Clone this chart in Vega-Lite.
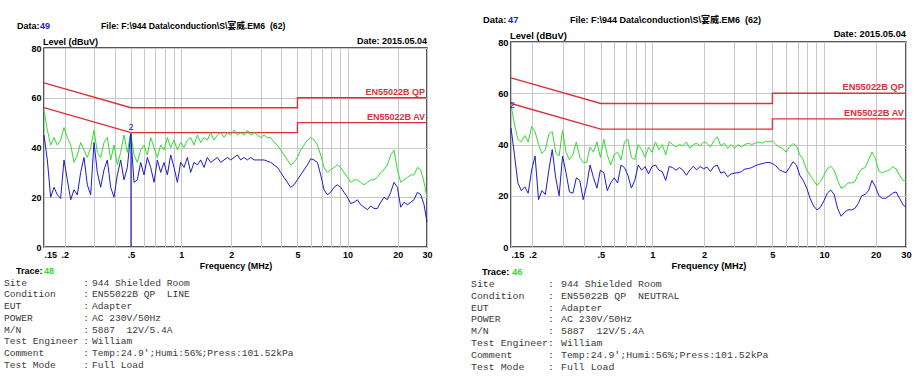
{
  "$schema": "https://vega.github.io/schema/vega-lite/v6.json",
  "background": "white",
  "padding": {"left": 4, "top": 15, "right": 0, "bottom": 0},
  "config": {
    "view": {"stroke": "#222222", "strokeWidth": 1.5},
    "axis": {
      "domain": false, "ticks": false, "gridColor": "#c8c8c8", "gridWidth": 1,
      "labelFont": "Liberation Sans", "labelFontWeight": "bold", "labelFontSize": 9, "labelColor": "#000000",
      "titleFont": "Liberation Sans", "titleFontWeight": "bold", "titleFontSize": 9, "titleColor": "#000000"
    },
    "text": {"font": "Liberation Sans", "fontWeight": "bold", "fontSize": 9, "color": "#000000"}
  },
  "datasets": {
    "one": [{}],
    "left": [
      {"f":0.15,"g":55,"b":45},{"f":0.1571,"g":47,"b":35},{"f":0.1645,"g":41,"b":20},{"f":0.1723,"g":44,"b":24},{"f":0.1804,"g":41,"b":21},
      {"f":0.1889,"g":43,"b":19.5},{"f":0.1978,"g":48,"b":35},{"f":0.2072,"g":44,"b":27},{"f":0.217,"g":41,"b":19},{"f":0.2272,"g":34,"b":23},
      {"f":0.2379,"g":37,"b":21},{"f":0.2491,"g":42,"b":30},{"f":0.2609,"g":39,"b":36},{"f":0.2732,"g":36,"b":25},{"f":0.2861,"g":40,"b":21},
      {"f":0.2996,"g":47,"b":42},{"f":0.3137,"g":38,"b":30},{"f":0.3285,"g":36,"b":24},{"f":0.344,"g":42,"b":31},{"f":0.3603,"g":44,"b":35},
      {"f":0.3773,"g":35,"b":24},{"f":0.3951,"g":41,"b":20},{"f":0.4137,"g":33,"b":29},{"f":0.4333,"g":38,"b":35},{"f":0.4537,"g":45,"b":27},
      {"f":0.4751,"g":38,"b":32},{"f":0.4976,"g":46,"b":45.5},{"f":0.5211,"g":37,"b":26},{"f":0.5457,"g":34,"b":27},{"f":0.5714,"g":39,"b":34},
      {"f":0.5984,"g":41,"b":29},{"f":0.6267,"g":37,"b":36},{"f":0.6562,"g":44,"b":32},{"f":0.6872,"g":40,"b":26},{"f":0.7197,"g":36,"b":35},
      {"f":0.7536,"g":41,"b":30},{"f":0.7892,"g":39,"b":34},{"f":0.8265,"g":44,"b":29},{"f":0.8655,"g":40,"b":37},{"f":0.9063,"g":43,"b":32},
      {"f":0.9491,"g":39,"b":26},{"f":0.9939,"g":42,"b":34},{"f":1.041,"g":40,"b":32},{"f":1.09,"g":43,"b":36},{"f":1.141,"g":44,"b":30},
      {"f":1.195,"g":41,"b":34},{"f":1.252,"g":45,"b":33},{"f":1.311,"g":42,"b":35},{"f":1.373,"g":44,"b":32},{"f":1.437,"g":43,"b":36},
      {"f":1.505,"g":46,"b":34},{"f":1.576,"g":43,"b":35},{"f":1.651,"g":45,"b":36},{"f":1.729,"g":46,"b":34},{"f":1.81,"g":44,"b":35},
      {"f":1.896,"g":46,"b":36},{"f":1.985,"g":45,"b":35},{"f":2.079,"g":47,"b":36},{"f":2.177,"g":45,"b":37},{"f":2.28,"g":46,"b":35},
      {"f":2.387,"g":45,"b":36},{"f":2.5,"g":47,"b":35},{"f":2.618,"g":45,"b":36},{"f":2.742,"g":46,"b":35},{"f":2.871,"g":45,"b":35},
      {"f":3.007,"g":44,"b":35},{"f":3.149,"g":45,"b":35},{"f":3.297,"g":44,"b":34.5},{"f":3.453,"g":44,"b":34},{"f":3.616,"g":42,"b":33},
      {"f":3.786,"g":41,"b":32},{"f":3.965,"g":39,"b":30},{"f":4.152,"g":37,"b":28},{"f":4.348,"g":35,"b":26},{"f":4.553,"g":33,"b":24},
      {"f":4.768,"g":34,"b":25},{"f":4.993,"g":36,"b":27},{"f":5.229,"g":39,"b":29},{"f":5.476,"g":41,"b":31},{"f":5.734,"g":43,"b":33},
      {"f":6.005,"g":44,"b":35.5},{"f":6.288,"g":43,"b":35},{"f":6.585,"g":41,"b":34},{"f":6.896,"g":37,"b":29},{"f":7.221,"g":32,"b":23},
      {"f":7.562,"g":30,"b":21},{"f":7.919,"g":31,"b":22},{"f":8.293,"g":32,"b":24},{"f":8.684,"g":33,"b":25},{"f":9.094,"g":32,"b":24},
      {"f":9.523,"g":30,"b":22},{"f":9.973,"g":28,"b":20},{"f":10.44,"g":26,"b":17.5},{"f":10.94,"g":27,"b":18},{"f":11.45,"g":27,"b":19},
      {"f":11.99,"g":26,"b":17},{"f":12.56,"g":25,"b":16},{"f":13.15,"g":26,"b":15},{"f":13.77,"g":27,"b":16.5},{"f":14.42,"g":27,"b":15.5},
      {"f":15.1,"g":28,"b":15.5},{"f":15.82,"g":30,"b":18},{"f":16.56,"g":31,"b":20},{"f":17.35,"g":33,"b":19},{"f":18.16,"g":37,"b":22},
      {"f":19.02,"g":39,"b":26},{"f":19.92,"g":31,"b":24},{"f":20.86,"g":26,"b":16},{"f":21.84,"g":27,"b":18},{"f":22.87,"g":28,"b":17},
      {"f":23.95,"g":29,"b":18},{"f":25.08,"g":29,"b":19},{"f":26.27,"g":32,"b":22},{"f":27.51,"g":31,"b":21},{"f":28.8,"g":26,"b":17},
      {"f":30,"g":20,"b":10}
    ],
    "right": [
      {"f":0.15,"g":55.4,"b":46.5},{"f":0.1571,"g":48,"b":36},{"f":0.1645,"g":42,"b":25},{"f":0.1723,"g":41,"b":22},{"f":0.1804,"g":43.5,"b":23.5},
      {"f":0.1889,"g":41,"b":21},{"f":0.1978,"g":47,"b":30},{"f":0.2072,"g":45,"b":35.5},{"f":0.217,"g":40,"b":18.5},{"f":0.2272,"g":36.5,"b":22},
      {"f":0.2379,"g":38,"b":20.5},{"f":0.2491,"g":44,"b":30},{"f":0.2609,"g":45,"b":38},{"f":0.2732,"g":37,"b":27},{"f":0.2861,"g":35.5,"b":20},
      {"f":0.2996,"g":45.5,"b":35.5},{"f":0.3137,"g":37,"b":29},{"f":0.3285,"g":34,"b":21.5},{"f":0.344,"g":36,"b":21},{"f":0.3603,"g":41,"b":27},
      {"f":0.3773,"g":35,"b":26},{"f":0.3951,"g":33,"b":18.5},{"f":0.4137,"g":33,"b":24},{"f":0.4333,"g":39,"b":32},{"f":0.4537,"g":37,"b":27},
      {"f":0.4751,"g":41,"b":23},{"f":0.4976,"g":35,"b":30},{"f":0.5211,"g":42,"b":29},{"f":0.5457,"g":36,"b":22},{"f":0.5714,"g":32,"b":25},
      {"f":0.5984,"g":36,"b":27},{"f":0.6267,"g":37,"b":25},{"f":0.6562,"g":34,"b":32},{"f":0.6872,"g":41,"b":31},{"f":0.7197,"g":42,"b":28},
      {"f":0.7536,"g":35,"b":23},{"f":0.7892,"g":34,"b":26},{"f":0.8265,"g":40,"b":32},{"f":0.8655,"g":38,"b":30},{"f":0.9063,"g":35,"b":31.4},
      {"f":0.9491,"g":39,"b":28.5},{"f":0.9939,"g":37,"b":31.4},{"f":1.041,"g":41,"b":32},{"f":1.09,"g":38,"b":30},{"f":1.141,"g":40,"b":29.4},
      {"f":1.195,"g":36,"b":26},{"f":1.252,"g":41,"b":31.4},{"f":1.311,"g":40,"b":31},{"f":1.373,"g":39,"b":30},{"f":1.437,"g":40,"b":31},
      {"f":1.505,"g":39.5,"b":30},{"f":1.576,"g":41,"b":28},{"f":1.651,"g":38.5,"b":30},{"f":1.729,"g":40,"b":31.5},{"f":1.81,"g":40.5,"b":30.1},
      {"f":1.896,"g":39.5,"b":31.4},{"f":1.985,"g":41,"b":30.5},{"f":2.079,"g":40.5,"b":31.2},{"f":2.177,"g":39,"b":29.5},{"f":2.28,"g":41.5,"b":31.4},
      {"f":2.387,"g":43,"b":32},{"f":2.5,"g":39.5,"b":28.8},{"f":2.618,"g":40.5,"b":29.4},{"f":2.742,"g":38.5,"b":27.4},{"f":2.871,"g":40,"b":28.5},
      {"f":3.007,"g":38.5,"b":28.8},{"f":3.149,"g":40,"b":29},{"f":3.297,"g":39,"b":29.4},{"f":3.453,"g":40,"b":30.4},{"f":3.616,"g":40.5,"b":30.6},
      {"f":3.786,"g":40,"b":31},{"f":3.965,"g":40.5,"b":31.7},{"f":4.152,"g":41,"b":32.2},{"f":4.348,"g":40.5,"b":32.5},{"f":4.553,"g":41.2,"b":32.9},
      {"f":4.768,"g":41,"b":33},{"f":4.993,"g":41.5,"b":32.6},{"f":5.229,"g":40,"b":31.7},{"f":5.476,"g":39,"b":30.2},{"f":5.734,"g":38.5,"b":29.5},
      {"f":6.005,"g":37,"b":29},{"f":6.288,"g":39,"b":31},{"f":6.585,"g":40.4,"b":33.3},{"f":6.896,"g":39.5,"b":32},{"f":7.221,"g":36,"b":28},
      {"f":7.562,"g":34,"b":26},{"f":7.919,"g":30,"b":23},{"f":8.293,"g":28,"b":19},{"f":8.684,"g":26,"b":16},{"f":9.094,"g":24,"b":14.5},
      {"f":9.523,"g":25.5,"b":15.5},{"f":9.973,"g":28,"b":18},{"f":10.44,"g":30.5,"b":21},{"f":10.94,"g":31.5,"b":22.2},{"f":11.45,"g":30,"b":20.5},
      {"f":11.99,"g":26,"b":15},{"f":12.56,"g":23,"b":12},{"f":13.15,"g":23.5,"b":13.5},{"f":13.77,"g":25,"b":14.5},{"f":14.42,"g":25,"b":14.5},
      {"f":15.1,"g":25.5,"b":15},{"f":15.82,"g":28.5,"b":17},{"f":16.56,"g":30.5,"b":20},{"f":17.35,"g":31,"b":20.5},{"f":18.16,"g":34,"b":22},
      {"f":19.02,"g":37,"b":26},{"f":19.92,"g":34.5,"b":23.5},{"f":20.86,"g":29.5,"b":20},{"f":21.84,"g":29,"b":19},{"f":22.87,"g":29.5,"b":19},
      {"f":23.95,"g":30,"b":20},{"f":25.08,"g":31.3,"b":21},{"f":26.27,"g":30.5,"b":21.5},{"f":27.51,"g":28,"b":19},{"f":28.8,"g":26,"b":16.5},
      {"f":30,"g":25.5,"b":15.5}
    ],
    "limits": [
      {"s":"QP","f":0.15,"v":66},{"s":"QP","f":0.5,"v":56},{"s":"QP","f":5,"v":56},{"s":"QP","f":5,"v":60},{"s":"QP","f":30,"v":60},
      {"s":"AV","f":0.15,"v":56},{"s":"AV","f":0.5,"v":46},{"s":"AV","f":5,"v":46},{"s":"AV","f":5,"v":50},{"s":"AV","f":30,"v":50}
    ],
    "infoL": [
      {"i":0,"k":"Trace:","v":"48"},
      {"i":1,"k":"Site","v":"944 Shielded Room"},
      {"i":2,"k":"Condition","v":"EN55022B QP\u00a0 LINE"},
      {"i":3,"k":"EUT","v":"Adapter"},
      {"i":4,"k":"POWER","v":"AC 230V/50Hz"},
      {"i":5,"k":"M/N","v":"5887\u00a0 12V/5.4A"},
      {"i":6,"k":"Test Engineer","v":"William"},
      {"i":7,"k":"Comment","v":"Temp:24.9';Humi:56%;Press:101.52kPa"},
      {"i":8,"k":"Test Mode","v":"Full Load"}
    ],
    "infoR": [
      {"i":0,"k":"Trace:","v":"46"},
      {"i":1,"k":"Site","v":"944 Shielded Room"},
      {"i":2,"k":"Condition","v":"EN55022B QP\u00a0 NEUTRAL"},
      {"i":3,"k":"EUT","v":"Adapter"},
      {"i":4,"k":"POWER","v":"AC 230V/50Hz"},
      {"i":5,"k":"M/N","v":"5887\u00a0 12V/5.4A"},
      {"i":6,"k":"Test Engineer","v":"William"},
      {"i":7,"k":"Comment","v":"Temp:24.9';Humi:56%;Press:101.52kPa"},
      {"i":8,"k":"Test Mode","v":"Full Load"}
    ]
  },
  "spacing": 38,
  "hconcat": [
    {
      "vconcat": [
        {
          "width": 383, "height": 6,
          "view": {"stroke": null},
          "data": {"name": "one"},
          "mark": {"type": "text", "text": ""}
        },
        {
          "vconcat": [
            {
              "width": 383, "height": 199,
              "layer": [
                {
                  "data": {"name": "limits"},
                  "mark": {"type": "line", "color": "#dd3038", "strokeWidth": 1.4},
                  "encoding": {
                    "x": {"field": "f", "type": "quantitative", "title": "Frequency (MHz)",
                      "scale": {"type": "log", "domain": [0.15, 30], "nice": false},
                      "axis": {"values": [0.15,0.2,0.3,0.4,0.5,0.6,0.7,0.8,0.9,1,2,3,4,5,6,7,8,9,10,20,30],
                        "labelExpr": "datum.value == 0.15 ? '.15' : datum.value == 0.2 ? '.2' : datum.value == 0.5 ? '.5' : indexof([1,2,5,10,20,30], datum.value) >= 0 ? format(datum.value, 'd') : ''",
                        "labelOverlap": false, "labelPadding": 3, "titlePadding": 2,
                        "labelAlign": {"condition": {"test": "datum.value < 0.16", "value": "left"}, "value": "center"}}},
                    "y": {"field": "v", "type": "quantitative", "title": null,
                      "scale": {"domain": [0, 80], "nice": false},
                      "axis": {"values": [0,10,20,30,40,50,60,70,80], "labelPadding": 3}},
                    "detail": {"field": "s"},
                    "order": {"value": null}
                  }
                },
                {
                  "data": {"name": "left"},
                  "mark": {"type": "line", "color": "#30dc30", "strokeWidth": 1},
                  "encoding": {"x": {"field": "f", "type": "quantitative"}, "y": {"field": "g", "type": "quantitative", "title": null}}
                },
                {
                  "data": {"name": "left"},
                  "mark": {"type": "line", "color": "#1c1cc8", "strokeWidth": 1},
                  "encoding": {"x": {"field": "f", "type": "quantitative"}, "y": {"field": "b", "type": "quantitative", "title": null}}
                },
                {
                  "data": {"name": "one"},
                  "mark": {"type": "rule", "color": "#1c1cc8", "strokeWidth": 1.2},
                  "encoding": {"x": {"datum": 0.5, "type": "quantitative"}, "y": {"datum": 45.5, "type": "quantitative"}, "y2": {"datum": 0}}
                },
                {
                  "data": {"name": "one"},
                  "mark": {"type": "text", "text": "2", "color": "#1c1cc8", "fontWeight": "normal", "baseline": "bottom", "dy": -2},
                  "encoding": {"x": {"datum": 0.5, "type": "quantitative"}, "y": {"datum": 45.5, "type": "quantitative"}}
                },
                {
                  "data": {"name": "one"},
                  "mark": {"type": "text", "text": "EN55022B QP", "color": "#dd3038", "align": "right", "baseline": "alphabetic", "dx": -2, "dy": -2.5},
                  "encoding": {"x": {"datum": 30, "type": "quantitative"}, "y": {"datum": 60, "type": "quantitative"}}
                },
                {
                  "data": {"name": "one"},
                  "mark": {"type": "text", "text": "EN55022B AV", "color": "#dd3038", "align": "right", "baseline": "alphabetic", "dx": -2, "dy": -2.5},
                  "encoding": {"x": {"datum": 30, "type": "quantitative"}, "y": {"datum": 50, "type": "quantitative"}}
                },
                {
                  "data": {"name": "one"},
                  "mark": {"type": "text", "text": "Level (dBuV)", "align": "left", "baseline": "middle", "dx": -1, "dy": -6},
                  "encoding": {"x": {"datum": 0.15, "type": "quantitative"}, "y": {"datum": 80, "type": "quantitative"}}
                },
                {
                  "data": {"name": "one"},
                  "mark": {"type": "text", "text": "Date: 2015.05.04", "align": "right", "baseline": "middle", "dy": -7},
                  "encoding": {"x": {"datum": 30, "type": "quantitative"}, "y": {"datum": 80, "type": "quantitative"}}
                },
                {
                  "data": {"name": "one"},
                  "mark": {"type": "text", "text": "Data:", "align": "left", "baseline": "middle", "dx": -27, "dy": -22},
                  "encoding": {"x": {"datum": 0.15, "type": "quantitative"}, "y": {"datum": 80, "type": "quantitative"}}
                },
                {
                  "data": {"name": "one"},
                  "mark": {"type": "text", "text": "49", "color": "#1c1cc8", "align": "left", "baseline": "middle", "dx": -4, "dy": -22},
                  "encoding": {"x": {"datum": 0.15, "type": "quantitative"}, "y": {"datum": 80, "type": "quantitative"}}
                },
                {
                  "data": {"name": "one"},
                  "mark": {"type": "text", "text": "File: F:\\944 Data\\conduction\\S\\宴威.EM6\u00a0 (62)", "font": "Liberation Sans, Noto Sans CJK SC", "fontSize": 8.7, "align": "left", "baseline": "middle", "dx": 57, "dy": -22},
                  "encoding": {"x": {"datum": 0.15, "type": "quantitative"}, "y": {"datum": 80, "type": "quantitative"}}
                }
              ]
            },
            {
              "width": 383, "height": {"step": 11.7},
              "view": {"stroke": null},
              "data": {"name": "infoL"},
              "encoding": {
                "y": {"field": "i", "type": "ordinal", "axis": null, "scale": {"type": "band", "paddingInner": 0, "paddingOuter": 0}},
                "x": {"datum": 0, "type": "quantitative", "scale": {"domain": [0, 1]}, "axis": null}
              },
              "layer": [
                {"transform": [{"filter": "datum.i == 0"}], "mark": {"type": "text", "align": "left", "baseline": "middle", "dx": -28}, "encoding": {"text": {"field": "k"}}},
                {"transform": [{"filter": "datum.i == 0"}], "mark": {"type": "text", "align": "left", "baseline": "middle", "dx": 0, "color": "#30dc30"}, "encoding": {"text": {"field": "v"}}},
                {"transform": [{"filter": "datum.i > 0"}], "mark": {"type": "text", "align": "left", "baseline": "middle", "dx": -40, "font": "Liberation Mono", "fontWeight": "normal", "fontSize": 9.6, "color": "#3a3a3a"}, "encoding": {"text": {"field": "k"}}},
                {"transform": [{"filter": "datum.i > 0"}], "mark": {"type": "text", "text": ":", "align": "center", "baseline": "middle", "dx": 42, "font": "Liberation Mono", "fontWeight": "normal", "fontSize": 9.6, "color": "#3a3a3a"}},
                {"transform": [{"filter": "datum.i > 0"}], "mark": {"type": "text", "align": "left", "baseline": "middle", "dx": 48, "font": "Liberation Mono", "fontWeight": "normal", "fontSize": 9.6, "color": "#3a3a3a"}, "encoding": {"text": {"field": "v"}}}
              ]
            }
          ],
          "spacing": 18.15,
          "bounds": "flush"
        }
      ],
      "spacing": 0,
      "bounds": "flush"
    },
    {
      "vconcat": [
        {
          "width": 395, "height": 205,
          "layer": [
            {
              "data": {"name": "limits"},
              "mark": {"type": "line", "color": "#dd3038", "strokeWidth": 1.4},
              "encoding": {
                "x": {"field": "f", "type": "quantitative", "title": "Frequency (MHz)",
                  "scale": {"type": "log", "domain": [0.15, 30], "nice": false},
                  "axis": {"values": [0.15,0.2,0.3,0.4,0.5,0.6,0.7,0.8,0.9,1,2,3,4,5,6,7,8,9,10,20,30],
                    "labelExpr": "datum.value == 0.15 ? '.15' : datum.value == 0.2 ? '.2' : datum.value == 0.5 ? '.5' : indexof([1,2,5,10,20,30], datum.value) >= 0 ? format(datum.value, 'd') : ''",
                    "labelOverlap": false, "labelPadding": 3, "titlePadding": 2, "labelFontSize": 9.3, "titleFontSize": 9.3,
                    "labelAlign": {"condition": {"test": "datum.value < 0.16", "value": "left"}, "value": "center"}}},
                "y": {"field": "v", "type": "quantitative", "title": null,
                  "scale": {"domain": [0, 80], "nice": false},
                  "axis": {"values": [0,10,20,30,40,50,60,70,80], "labelPadding": 3, "labelFontSize": 9.3}},
                "detail": {"field": "s"},
                "order": {"value": null}
              }
            },
            {
              "data": {"name": "right"},
              "mark": {"type": "line", "color": "#30dc30", "strokeWidth": 1},
              "encoding": {"x": {"field": "f", "type": "quantitative"}, "y": {"field": "g", "type": "quantitative", "title": null}}
            },
            {
              "data": {"name": "right"},
              "mark": {"type": "line", "color": "#1c1cc8", "strokeWidth": 1},
              "encoding": {"x": {"field": "f", "type": "quantitative"}, "y": {"field": "b", "type": "quantitative", "title": null}}
            },
            {
              "data": {"name": "one"},
              "mark": {"type": "text", "text": "2", "color": "#1c1cc8", "fontWeight": "normal", "fontSize": 9.3, "baseline": "middle", "dx": 1},
              "encoding": {"x": {"datum": 0.15, "type": "quantitative"}, "y": {"datum": 55.4, "type": "quantitative"}}
            },
            {
              "data": {"name": "one"},
              "mark": {"type": "text", "text": "EN55022B QP", "color": "#dd3038", "fontSize": 9.3, "align": "right", "baseline": "alphabetic", "dx": -2, "dy": -3},
              "encoding": {"x": {"datum": 30, "type": "quantitative"}, "y": {"datum": 60, "type": "quantitative"}}
            },
            {
              "data": {"name": "one"},
              "mark": {"type": "text", "text": "EN55022B AV", "color": "#dd3038", "fontSize": 9.3, "align": "right", "baseline": "alphabetic", "dx": -2, "dy": -2.5},
              "encoding": {"x": {"datum": 30, "type": "quantitative"}, "y": {"datum": 50, "type": "quantitative"}}
            },
            {
              "data": {"name": "one"},
              "mark": {"type": "text", "text": "Level (dBuV)", "fontSize": 9.3, "align": "left", "baseline": "middle", "dx": -1, "dy": -6},
              "encoding": {"x": {"datum": 0.15, "type": "quantitative"}, "y": {"datum": 80, "type": "quantitative"}}
            },
            {
              "data": {"name": "one"},
              "mark": {"type": "text", "text": "Date: 2015.05.04", "fontSize": 9.3, "align": "right", "baseline": "middle", "dy": -8},
              "encoding": {"x": {"datum": 30, "type": "quantitative"}, "y": {"datum": 80, "type": "quantitative"}}
            },
            {
              "data": {"name": "one"},
              "mark": {"type": "text", "text": "Data:", "fontSize": 9.3, "align": "left", "baseline": "middle", "dx": -28, "dy": -22},
              "encoding": {"x": {"datum": 0.15, "type": "quantitative"}, "y": {"datum": 80, "type": "quantitative"}}
            },
            {
              "data": {"name": "one"},
              "mark": {"type": "text", "text": "47", "color": "#1c1cc8", "fontSize": 9.3, "align": "left", "baseline": "middle", "dx": -3, "dy": -22},
              "encoding": {"x": {"datum": 0.15, "type": "quantitative"}, "y": {"datum": 80, "type": "quantitative"}}
            },
            {
              "data": {"name": "one"},
              "mark": {"type": "text", "text": "File: F:\\944 Data\\conduction\\S\\宴威.EM6\u00a0 (62)", "font": "Liberation Sans, Noto Sans CJK SC", "fontSize": 9, "align": "left", "baseline": "middle", "dx": 59, "dy": -22},
              "encoding": {"x": {"datum": 0.15, "type": "quantitative"}, "y": {"datum": 80, "type": "quantitative"}}
            }
          ]
        },
        {
          "width": 395, "height": {"step": 11.95},
          "view": {"stroke": null},
          "data": {"name": "infoR"},
          "encoding": {
            "y": {"field": "i", "type": "ordinal", "axis": null, "scale": {"type": "band", "paddingInner": 0, "paddingOuter": 0}},
            "x": {"datum": 0, "type": "quantitative", "scale": {"domain": [0, 1]}, "axis": null}
          },
          "layer": [
            {"transform": [{"filter": "datum.i == 0"}], "mark": {"type": "text", "align": "left", "baseline": "middle", "dx": -29, "fontSize": 9.3}, "encoding": {"text": {"field": "k"}}},
            {"transform": [{"filter": "datum.i == 0"}], "mark": {"type": "text", "align": "left", "baseline": "middle", "dx": 1, "fontSize": 9.3, "color": "#30dc30"}, "encoding": {"text": {"field": "v"}}},
            {"transform": [{"filter": "datum.i > 0"}], "mark": {"type": "text", "align": "left", "baseline": "middle", "dx": -40, "font": "Liberation Mono", "fontWeight": "normal", "fontSize": 9.9, "color": "#3a3a3a"}, "encoding": {"text": {"field": "k"}}},
            {"transform": [{"filter": "datum.i > 0"}], "mark": {"type": "text", "text": ":", "align": "center", "baseline": "middle", "dx": 40, "font": "Liberation Mono", "fontWeight": "normal", "fontSize": 9.9, "color": "#3a3a3a"}},
            {"transform": [{"filter": "datum.i > 0"}], "mark": {"type": "text", "align": "left", "baseline": "middle", "dx": 50, "font": "Liberation Mono", "fontWeight": "normal", "fontSize": 9.9, "color": "#3a3a3a"}, "encoding": {"text": {"field": "v"}}}
          ]
        }
      ],
      "spacing": 18.7,
      "bounds": "flush"
    }
  ]
}
